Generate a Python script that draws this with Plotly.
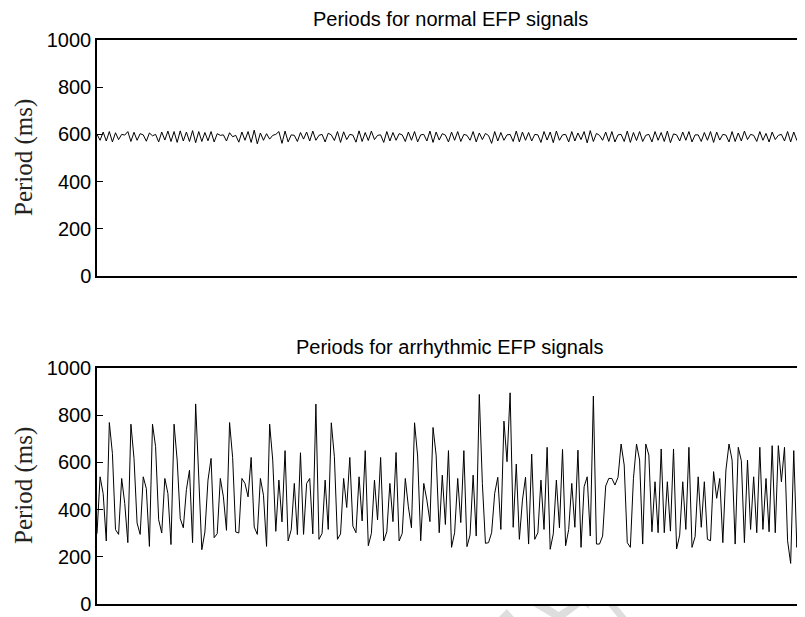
import plotly.graph_objects as go

# ---- data ----
normal_periods = [
    600, 575, 610, 572, 612, 568, 607, 578, 600, 597,
    612, 570, 609, 575, 603, 598, 571, 606, 594, 600,
    568, 610, 576, 614, 570, 612, 566, 615, 572, 610,
    570, 616, 565, 612, 570, 608, 573, 612, 568, 603,
    596, 598, 572, 607, 590, 596, 567, 610, 575, 612,
    566, 618, 560, 606, 575, 603, 580, 596, 600, 612,
    562, 614, 568, 598, 596, 570, 608, 580, 610, 572,
    614, 575, 596, 600, 568, 605, 598, 574, 612, 566,
    611, 578, 600, 597, 567, 615, 570, 608, 574, 614,
    578, 596, 598, 566, 612, 572, 608, 575, 603, 598,
    570, 610, 575, 612, 568, 598, 600, 572, 614, 566,
    610, 576, 603, 597, 568, 610, 575, 612, 570, 600,
    596, 575, 612, 568, 606, 578, 604, 595, 562, 612,
    572, 608, 575, 598, 600, 570, 614, 568, 610, 575,
    608, 572, 600, 598, 566, 612, 576, 610, 565, 614,
    575, 598, 600, 568, 612, 572, 606, 578, 612, 564,
    616, 570, 604, 596, 575, 610, 570, 612, 568, 598,
    600, 570, 614, 566, 608, 574, 612, 570, 596, 600,
    568, 612, 575, 608, 570, 614, 565, 602, 598, 572,
    610, 575, 612, 568, 598, 598, 570, 608, 575, 612,
    566, 610, 576, 600, 597, 568, 612, 570, 606, 572,
    614, 578, 600, 596, 570, 612, 575, 604, 568, 610,
    578, 596, 600, 572, 612, 568, 610, 575, 605, 598,
]

arrhythmic_periods = [
    298, 539, 468, 267, 769, 638, 315, 295, 532, 426,
    260, 762, 617, 343, 295, 539, 489, 244, 762, 667,
    357, 301, 532, 468, 252, 762, 610, 362, 323, 485,
    567, 260, 848, 546, 230, 305, 525, 617, 281, 298,
    532, 454, 312, 769, 620, 305, 301, 532, 511, 454,
    621, 326, 295, 532, 461, 244, 762, 610, 308, 525,
    348, 650, 267, 315, 511, 294, 641, 295, 511,
    532, 297, 847, 274, 299, 525, 316, 768,
    624, 274, 297, 532, 409, 621, 330, 302, 539, 352,
    650, 247, 299, 525, 356, 621, 267, 306, 511, 349,
    642, 267, 299, 532, 412, 323, 768, 627, 268, 511,
    440, 349, 748, 631, 302, 546, 337, 650, 240, 302,
    532, 345, 650, 243, 292, 546, 288, 888, 511, 257,
    260, 302, 469, 537, 316, 775, 603, 895, 325, 593,
    274, 440, 537, 254, 635, 274, 302, 525, 316, 664,
    232, 297, 525, 323, 655, 247, 316,
    511, 325, 652, 240, 497, 539, 288, 881, 254, 254,
    288, 500, 532, 532, 504, 537, 678, 589, 260, 240,
    532, 678, 610, 254, 678, 631, 306, 518, 302, 657,
    302, 518, 309, 657, 233, 292, 518, 316, 664, 240,
    285, 539, 325, 518, 274, 268, 561, 448, 532, 260,
    568, 678, 610, 254, 664, 607, 260, 610, 316, 539,
    302, 664, 316, 532, 306, 671, 302, 671, 518, 664,
    268, 172, 650, 240, 568, 268,
]

titles = ["Periods for normal EFP signals", "Periods for arrhythmic EFP signals"]
y_label = "Period (ms)"
y_ticks = [0, 200, 400, 600, 800, 1000]

# ---- figure (page body has an 8px margin, so the figure is sized to end at the window edge) ----
OFF = 8
W, H = 805 - OFF, 617 - OFF
L, R, T, B = 97 - OFF, 0, 40 - OFF, 13
top_dom = [0.5816, 1.0]
bot_dom = [0.0, 0.4184]

fig = go.Figure()
fig.add_trace(go.Scatter(x=list(range(len(normal_periods))), y=normal_periods,
                         mode="lines", line=dict(color="black", width=1),
                         xaxis="x", yaxis="y", showlegend=False, hoverinfo="skip"))
fig.add_trace(go.Scatter(x=list(range(len(arrhythmic_periods))), y=arrhythmic_periods,
                         mode="lines", line=dict(color="black", width=1),
                         xaxis="x2", yaxis="y2", showlegend=False, hoverinfo="skip"))

xcommon = dict(showline=True, linecolor="black", linewidth=1.5, mirror=True,
               ticks="", showticklabels=False, showgrid=False, zeroline=False)
ycommon = dict(range=[0, 1000], tickvals=y_ticks, showline=True, linecolor="black",
               linewidth=1.5, mirror="ticks", ticks="inside", ticklen=6, tickwidth=1.2,
               tickcolor="black", showgrid=False, zeroline=False,
               tickfont=dict(family="Liberation Sans, Arial, sans-serif", size=20, color="black"))

fig.update_layout(
    width=W, height=H,
    margin=dict(l=L, r=R, t=T, b=B),
    paper_bgcolor="white", plot_bgcolor="white",
    xaxis=dict(domain=[0, 1], range=[0, len(normal_periods) - 1], anchor="y", **xcommon),
    yaxis=dict(domain=top_dom, anchor="x", **ycommon),
    xaxis2=dict(domain=[0, 1], range=[0, len(arrhythmic_periods) - 1], anchor="y2", **xcommon),
    yaxis2=dict(domain=bot_dom, anchor="x2", **ycommon),
)

ann = []
for title, dom in zip(titles, [top_dom, bot_dom]):
    ann.append(dict(text=title, xref="paper", yref="paper", x=0.5, y=dom[1],
                    xanchor="center", yanchor="middle", yshift=21, showarrow=False,
                    font=dict(family="Liberation Sans, Arial, sans-serif", size=20, color="black")))
    ann.append(dict(text=y_label, xref="paper", yref="paper", x=0, y=(dom[0] + dom[1]) / 2,
                    xanchor="center", yanchor="middle", xshift=-73, textangle=-90,
                    showarrow=False,
                    font=dict(family="Liberation Serif, Times New Roman, serif", size=25,
                              color="#222222")))
fig.update_layout(annotations=ann)

# faint watermark fragments below the lower axes (screen pixel positions)
PW, PH = 708, 564
def px_to_paper(px, py):
    return (px - 97) / PW, (604 - py) / PH

wm_polys = [
    [(500, 617), (508, 609), (515, 617)],
    [(533, 605), (549, 605), (560, 612), (571, 605), (583, 605), (567, 617), (553, 617)],
    [(585, 605), (590, 605), (591, 609)],
    [(609, 605), (618, 605), (628, 617), (619, 617)],
]
shapes = []
for poly in wm_polys:
    pts = [px_to_paper(a, b) for a, b in poly]
    path = "M " + " L ".join(f"{x:.4f},{y:.4f}" for x, y in pts) + " Z"
    shapes.append(dict(type="path", path=path, xref="paper", yref="paper",
                       fillcolor="#dedede", line=dict(width=0), layer="below"))
fig.update_layout(shapes=shapes)

fig.write_html("out.html", config={"displayModeBar": False})
